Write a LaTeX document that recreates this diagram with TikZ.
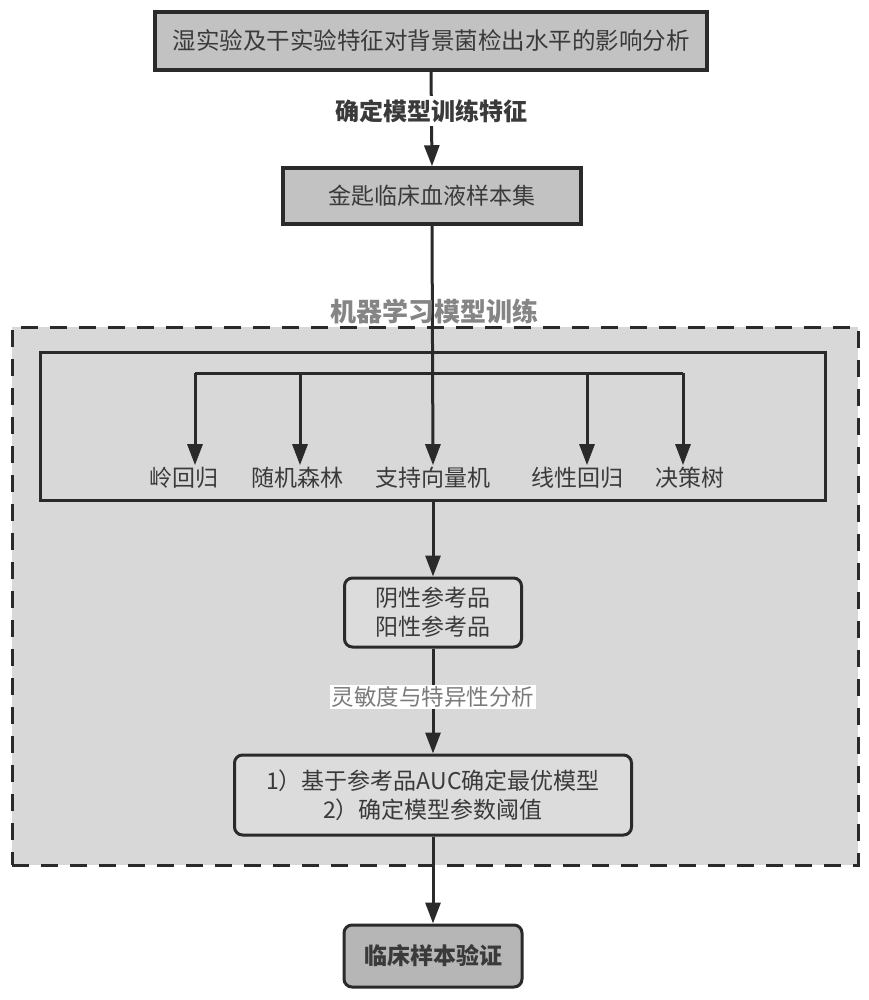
\documentclass[tikz,border=0pt]{standalone}
\usepackage{fontspec}
\setmainfont{Noto Sans CJK SC}
\usetikzlibrary{arrows.meta}
\definecolor{txt}{HTML}{3A3A3A}
\definecolor{boxdark}{HTML}{C2C2C2}
\definecolor{boxend}{HTML}{B6B6B6}
\definecolor{regionbg}{HTML}{D8D8D8}
\definecolor{boxlight}{HTML}{DCDCDC}
\definecolor{edge}{HTML}{2A2A2A}
\definecolor{titlegray}{HTML}{858585}
\definecolor{labelgray}{HTML}{7A7A7A}
\tikzset{
  basefont/.style={font=\fontsize{23pt}{29pt}\selectfont, text=txt},
  topbox/.style={basefont, draw=edge, line width=3.5pt, fill=boxdark, inner sep=0pt, align=center},
  roundbox/.style={basefont, draw=edge, line width=3pt, fill=boxlight, rounded corners=8pt, inner sep=0pt, align=center},
  endbox/.style={roundbox, fill=boxend, font=\fontsize{23pt}{29pt}\selectfont\bfseries},
  algo/.style={basefont, inner sep=2pt},
  conn/.style={draw=edge, line width=3pt},
  arr/.style={conn, -{Triangle[length=21pt,width=15pt]}},
}
\begin{document}
\begin{tikzpicture}[x=1pt,y=-1pt]
\useasboundingbox[fill=white] (0,0) rectangle (868,1000);
% outer dashed region
\node[draw=edge, line width=3pt, dash pattern=on 17pt off 12pt, fill=regionbg, minimum width=846pt, minimum height=538pt, inner sep=0pt] (outer) at (435,596) {};
% inner solid box
\node[draw=edge, line width=3pt, fill=regionbg, minimum width=785pt, minimum height=148pt, inner sep=0pt] (inner) at (432.5,426) {};
% top boxes
\node[topbox, minimum width=552pt, minimum height=58pt, font=\fontsize{23.5pt}{29pt}\selectfont] (top) at (431,41) {湿实验及干实验特征对背景菌检出水平的影响分析};
\node[topbox, minimum width=298pt, minimum height=56pt] (blood) at (432,196) {金匙临床血液样本集};
% algorithm labels
\node[algo] (a1) at (184,478) {岭回归};
\node[algo] (a2) at (297,478) {随机森林};
\node[algo] (a3) at (433,478) {支持向量机};
\node[algo] (a4) at (577,478) {线性回归};
\node[algo] (a5) at (690,478) {决策树};
% lower boxes
\node[roundbox, minimum width=177pt, minimum height=69pt] (ref) at (433,612.5) {阴性参考品\\阳性参考品};
\node[roundbox, minimum width=397pt, minimum height=80pt] (auc) at (433,795) {1）基于参考品AUC确定最优模型\\2）确定模型参数阈值};
\node[endbox, minimum width=178pt, minimum height=62pt] (clin) at (433,956) {临床样本验证};
% branch coordinates
\coordinate (bl) at (195,373);
\coordinate (br) at (683,373);
\coordinate (b2) at (300,373);
\coordinate (b4) at (587,373);
% connectors
\draw[arr] (top.south) -- (blood.north);
\draw[arr] (blood.south) -- (a3.north);
\draw[conn] (bl) -- (br);
\draw[arr] (bl) -- (bl |- a1.north);
\draw[arr] (b2) -- (b2 |- a2.north);
\draw[arr] (b4) -- (b4 |- a4.north);
\draw[arr] (br) -- (br |- a5.north);
\draw[arr] (inner.south -| ref.north) -- (ref.north);
\draw[arr] (ref.south) -- (auc.north);
\draw[arr] (auc.south) -- (clin.north);
% labels
\node[basefont, font=\fontsize{24pt}{28pt}\selectfont\bfseries, fill=white, inner sep=3pt] (l1) at (431,111) {确定模型训练特征};
\node[font=\fontsize{26pt}{30pt}\selectfont\bfseries, text=titlegray, inner sep=0pt] (title) at (434,311) {机器学习模型训练};
\node[font=\fontsize{22.5pt}{26pt}\selectfont, text=labelgray, fill=white, inner sep=2pt] (l2) at (433,697) {灵敏度与特异性分析};
\end{tikzpicture}
\end{document}
